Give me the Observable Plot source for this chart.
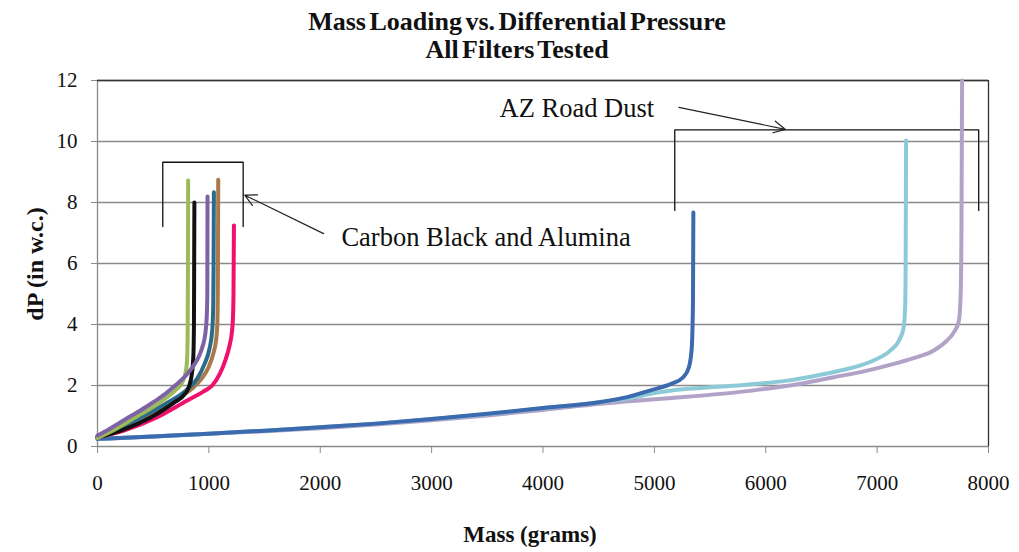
<!DOCTYPE html>
<html><head><meta charset="utf-8">
<script src="https://cdn.jsdelivr.net/npm/d3@7"></script>
<script src="https://cdn.jsdelivr.net/npm/@observablehq/plot@0.6"></script>
<style>
body{margin:0;background:#fff;font-family:"Liberation Serif","Times New Roman",serif;}
#wrap{position:relative;width:1019px;height:552px;overflow:hidden;background:#fff;}
#title{position:absolute;left:0;top:8px;width:1034px;text-align:center;font-weight:bold;font-size:26px;line-height:28px;word-spacing:-3px;color:#111;z-index:2;}
#chart{position:absolute;left:0;top:60px;z-index:1;}
#xlab{position:absolute;left:0;width:1060px;top:522px;text-align:center;font-weight:bold;font-size:23px;color:#111;}
#ylab{position:absolute;left:35px;top:264px;transform:translate(-50%,-50%) rotate(-90deg);white-space:nowrap;font-weight:bold;font-size:24px;color:#111;}
</style></head><body>
<div id="wrap">
<div id="title">Mass Loading vs. Differential Pressure<br>All Filters Tested</div>
<div id="chart"></div>
<div id="xlab">Mass (grams)</div>
<div id="ylab">dP (in w.c.)</div>
</div>
<script>
// Tick values
const xTicks = [0,1000,2000,3000,4000,5000,6000,7000,8000];
const yTicks = [0,2,4,6,8,10,12];

// Series: [mass (grams), dP (in w.c.)]
const azLavender = [[0,0.25],[500,0.33],[1000,0.42],[1500,0.5],[2000,0.6],[2500,0.72],[3000,0.86],[3500,1.02],[4000,1.2],[4516,1.4],[5000,1.55],[5262,1.62],[5893,1.84],[6300,2.05],[6611,2.27],[6900,2.48],[7150,2.71],[7350,2.92],[7509,3.15],[7620,3.45],[7690,3.75],[7733,4.1],[7750,5],[7757,7],[7763,12]];
const azLightBlue = [[0,0.25],[500,0.33],[1000,0.42],[1500,0.52],[2000,0.63],[2500,0.75],[3000,0.9],[3500,1.06],[4000,1.25],[4500,1.44],[4800,1.6],[5000,1.75],[5200,1.86],[5414,1.92],[5800,2.02],[6192,2.16],[6450,2.32],[6671,2.49],[6967,2.82],[7120,3.15],[7200,3.5],[7238,3.9],[7252,4.6],[7256,6],[7260,10.03]];
const azDarkBlue = [[0,0.25],[500,0.33],[1000,0.42],[1500,0.52],[2000,0.63],[2500,0.75],[3000,0.9],[3500,1.07],[4000,1.26],[4500,1.45],[4756,1.62],[4965,1.84],[5155,2.06],[5259,2.27],[5310,2.6],[5335,3.2],[5343,4.0],[5347,5],[5350,7.67]];
const cbPink = [[0,0.3],[237,0.52],[536,0.96],[806,1.51],[950,1.8],[1030,2.0],[1100,2.4],[1150,2.85],[1185,3.3],[1205,3.7],[1216,4.2],[1221,5],[1225,7.25]];
const cbBrown = [[0,0.3],[200,0.62],[400,0.97],[536,1.2],[700,1.56],[850,1.9],[940,2.25],[997,2.6],[1040,3.05],[1065,3.5],[1076,4.0],[1081,5.5],[1084,8.75]];
const cbTeal = [[0,0.3],[200,0.62],[400,0.98],[600,1.38],[800,1.85],[900,2.25],[960,2.7],[1005,3.2],[1030,3.8],[1039,4.6],[1042,5.8],[1045,8.34]];
const cbBlack = [[0,0.3],[150,0.45],[300,0.65],[400,0.82],[500,1.0],[600,1.22],[700,1.47],[780,1.7],[820,1.95],[848,2.4],[861,3.0],[866,4],[868,6],[870,8.0]];
const cbGreen = [[0,0.28],[100,0.45],[200,0.65],[300,0.87],[400,1.08],[500,1.3],[600,1.55],[700,1.85],[760,2.1],[795,2.5],[806,3.0],[810,4],[812,6],[814,8.72]];
const cbPurple = [[0,0.36],[100,0.56],[200,0.78],[300,1.0],[385,1.18],[500,1.45],[600,1.7],[697,2.0],[800,2.35],[862,2.65],[910,2.95],[945,3.3],[968,3.7],[980,4.2],[986,5],[988,8.2]];

const seriesList = [azLavender, azLightBlue, azDarkBlue, cbPink, cbBrown, cbTeal, cbBlack, cbGreen, cbPurple];
const seriesColors = ["#b3a2c7","#8dcad8","#3b6aae","#f0106e","#a9794a","#2b6a8a","#111111","#9bbb59","#7e62a6"];

// Annotations (data units)
const cbBracket = [[586,7.21],[586,9.32],[1308,9.32],[1308,7.21]];
const azBracket = [[5183,7.74],[5183,10.38],[7912,10.38],[7912,7.74]];
const cbArrow = {x1:2030, y1:6.98, x2:1322, y2:8.24};
const azArrow = {x1:5220, y1:11.12, x2:6175, y2:10.4};
const labels = [
  {x:2190, y:6.86, text:"Carbon Black and Alumina"},
  {x:3610, y:11.09, text:"AZ Road Dust"}
];

const marks = [
  Plot.gridY(yTicks.filter(d => d > 0), {stroke:"#8a8a8a", strokeOpacity:1, strokeWidth:1.3}),
  Plot.ruleX([0], {stroke:"#8a8a8a", strokeWidth:1.3}),
  Plot.ruleY([0], {stroke:"#8a8a8a", strokeWidth:1.3}),
  Plot.ruleX([8000], {stroke:"#333", strokeWidth:1.3}),
  Plot.ruleY([12], {stroke:"#333", strokeWidth:1.3}),
  Plot.axisX(xTicks, {tickSize:7, tickPadding:22, fontSize:21, stroke:"#8a8a8a", label:null, tickFormat:d => String(d)}),
  Plot.axisY(yTicks, {tickSize:6, tickPadding:14, fontSize:21, stroke:"#8a8a8a", label:null}),
  Plot.line(cbBracket, {x:d=>d[0], y:d=>d[1], stroke:"#111", strokeWidth:1.3, curve:"linear"}),
  Plot.line(azBracket, {x:d=>d[0], y:d=>d[1], stroke:"#111", strokeWidth:1.3, curve:"linear"}),
  Plot.arrow([cbArrow, azArrow], {x1:"x1", y1:"y1", x2:"x2", y2:"y2", stroke:"#222", strokeWidth:1.2, headLength:16, headAngle:55}),
  ...seriesList.map((s,i) => Plot.line(s, {x:d=>d[0], y:d=>d[1], stroke:seriesColors[i], strokeWidth:4, curve:"monotone-x", strokeLinecap:"round"})),
  Plot.text(labels, {x:"x", y:"y", text:"text", textAnchor:"start", fontSize:26.5, fill:"#111", fontFamily:"Liberation Serif"})
];

const chart = Plot.plot({
  width: 1019,
  height: 492,
  marginLeft: 97,
  marginRight: 31,
  marginTop: 20,
  marginBottom: 106,
  style: {fontFamily:"Liberation Serif, serif", color:"#111", background:"transparent"},
  x: {domain:[0,8000]},
  y: {domain:[0,12]},
  marks
});
document.getElementById("chart").appendChild(chart);
</script>
</body></html>
